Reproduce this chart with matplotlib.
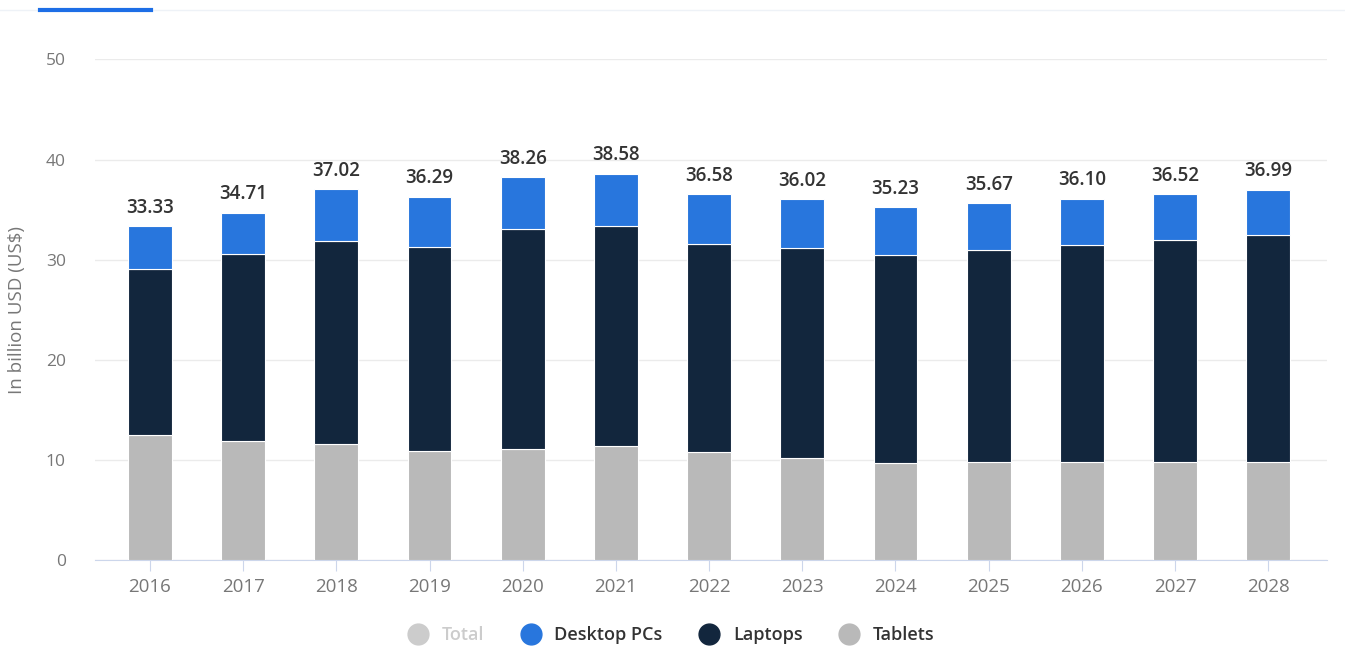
import matplotlib.pyplot as plt
from matplotlib.lines import Line2D
import numpy as np

plt.rcParams['font.family'] = ['Open Sans', 'DejaVu Sans']

# Datos (mil millones USD)
years = ['2016', '2017', '2018', '2019', '2020', '2021', '2022',
         '2023', '2024', '2025', '2026', '2027', '2028']
tablets = [12.5, 11.9, 11.6, 10.85, 11.1, 11.4, 10.8, 10.2, 9.7, 9.8, 9.8, 9.8, 9.8]
laptops = [16.6, 18.7, 20.25, 20.4, 22.0, 21.95, 20.8, 21.0, 20.8, 21.15, 21.7, 22.15, 22.65]
desktops = [4.23, 4.11, 5.17, 5.04, 5.16, 5.23, 4.98, 4.82, 4.73, 4.72, 4.60, 4.57, 4.54]
totals = [33.33, 34.71, 37.02, 36.29, 38.26, 38.58, 36.58, 36.02, 35.23, 35.67, 36.10, 36.52, 36.99]

c_tab = '#b9b9b9'
c_lap = '#12263d'
c_desk = '#2876dd'

fig = plt.figure(figsize=(13.45, 6.46), dpi=100)
ax = fig.add_axes([0.0706, 0.1331, 0.9160, 0.7748])

x = np.arange(len(years))
w = 0.47
ax.bar(x, tablets, w, color=c_tab, edgecolor='white', linewidth=0.8, zorder=3)
ax.bar(x, laptops, w, bottom=tablets, color=c_lap, edgecolor='white', linewidth=0.8, zorder=3)
bottom2 = np.array(tablets) + np.array(laptops)
ax.bar(x, desktops, w, bottom=bottom2, color=c_desk, edgecolor='white', linewidth=0.8, zorder=3)

for xi, t in zip(x, totals):
    ax.annotate(f'{t:.2f}', (xi, t), xytext=(0, 6), textcoords='offset points',
                ha='center', va='bottom', fontsize=13.5, fontweight='semibold', color='#333333')

ax.set_ylim(0, 50)
ax.set_xlim(-0.59, 12.63)
ax.set_yticks([0, 10, 20, 30, 40, 50])
ax.set_xticks(x)
ax.set_xticklabels(years)
ax.grid(axis='y', color='#ebebeb', linewidth=1, zorder=0)
for s in ['top', 'right', 'left']:
    ax.spines[s].set_visible(False)
ax.spines['bottom'].set_color('#ccd6eb')
ax.tick_params(axis='y', length=0, pad=21, labelsize=12.5, labelcolor='#777777')
ax.tick_params(axis='x', length=8, color='#ccd6eb', pad=5, labelsize=13.5, labelcolor='#777777')
ax.set_ylabel('In billion USD (US$)', fontsize=13.5, color='#777777', labelpad=14)

handles = [Line2D([], [], marker='o', linestyle='', markersize=15, color=c) for c in
           ['#cccccc', c_desk, c_lap, c_tab]]
leg = fig.legend(handles, ['Total', 'Desktop PCs', 'Laptops', 'Tablets'], loc='center',
                 bbox_to_anchor=(0.496, 0.017), ncol=4, frameon=False, fontsize=13,
                 handletextpad=0.3, columnspacing=1.6)
for i, txt in enumerate(leg.get_texts()):
    txt.set_color('#cccccc' if i == 0 else '#333333')
    txt.set_fontweight('semibold')

# Línea superior (pestaña)
fig.add_artist(Line2D([0.0, 1.0], [0.985, 0.985], color='#eef2f7', linewidth=1))
fig.add_artist(Line2D([0.030, 0.112], [0.985, 0.985], color='#1d6ee6', linewidth=3))

fig.savefig('out.png', dpi=100)
